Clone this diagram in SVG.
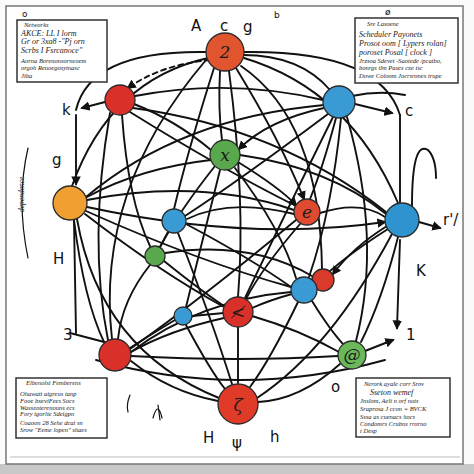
<svg xmlns="http://www.w3.org/2000/svg" width="474" height="474" viewBox="0 0 474 474">
<defs>
<marker id="ah" viewBox="0 0 10 10" refX="8" refY="5" markerWidth="5" markerHeight="5" orient="auto-start-reverse"><path d="M0,0 L10,5 L0,10 z" fill="#111"/></marker>
<style>
.e{fill:none;stroke:#111;stroke-width:1.9;stroke-linecap:round}
.t{fill:none;stroke:#111;stroke-width:1.2;stroke-linecap:round}
.n{stroke:#2a2a2a;stroke-width:1.3}
.lbl{font-family:"DejaVu Sans",sans-serif;font-size:15px;fill:#111}
.in{font-family:"DejaVu Serif",serif;font-size:17px;fill:#1a1a1a;text-anchor:middle;font-style:italic}
.bx{fill:#fff;stroke:#333;stroke-width:1.5}
.tx{font-family:"Liberation Serif",serif;font-style:italic;font-size:6.5px;fill:#222}
.big{font-size:8px}
</style>
</defs>
<rect x="0" y="0" width="474" height="474" fill="#fbfbfb"/>
<rect x="0" y="464" width="474" height="10" fill="#c8c8c8"/>
<rect x="6" y="6" width="457" height="458" fill="#fff" stroke="#777" stroke-width="1.5"/>
<line x1="10" y1="457" x2="460" y2="457" stroke="#bbb" stroke-width="1"/>

<g id="connectors">
<path class="e" d="M210,60 Q160,65 128,88" stroke-dasharray="5,4" marker-end="url(#ah)"/>
<path class="e" d="M243,55 Q300,55 330,90"/>
<path class="e" d="M208,58 Q110,80 72,186"/>
<path class="e" d="M244,58 Q350,90 398,203"/>
<path class="e" d="M220,71 Q218,110 222,140"/>
<path class="e" d="M214,68 Q188,150 174,209"/>
<path class="e" d="M236,68 Q280,140 304,199" marker-end="url(#ah)"/>
<path class="e" d="M229,71 Q246,200 238,297"/>
<path class="e" d="M241,66 Q320,120 322,269"/>
<path class="e" d="M206,60 Q95,190 112,339"/>
<path class="e" d="M244,52 Q380,50 400,115"/>
<path class="e" d="M206,52 Q90,50 76,110"/>
<path class="e" d="M134,104 Q175,120 211,150"/>
<path class="e" d="M135,96 Q230,78 323,100"/>
<path class="e" d="M133,108 Q280,128 386,212"/>
<path class="e" d="M130,112 Q220,168 296,206"/>
<path class="e" d="M122,115 Q128,200 150,246"/>
<path class="e" d="M110,113 Q88,240 108,340"/>
<path class="e" d="M105,102 L82,108" marker-end="url(#ah)"/>
<path class="e" d="M324,108 Q268,120 239,149" marker-end="url(#ah)"/>
<path class="e" d="M328,114 Q240,180 185,216"/>
<path class="e" d="M324,105 Q180,118 86,197"/>
<path class="e" d="M336,118 Q322,170 310,199"/>
<path class="e" d="M347,117 Q382,240 356,341"/>
<path class="e" d="M333,117 Q282,220 245,298"/>
<path class="e" d="M341,118 Q332,210 309,277"/>
<path class="e" d="M355,104 L392,113" marker-end="url(#ah)"/>
<path class="e" d="M352,96 Q380,90 405,95"/>
<path class="e" d="M211,160 Q140,168 87,197"/>
<path class="e" d="M238,162 Q280,188 296,205" marker-end="url(#ah)"/>
<path class="e" d="M215,166 Q180,210 160,247"/>
<path class="e" d="M235,168 Q282,230 296,278"/>
<path class="e" d="M240,155 Q330,168 386,214"/>
<path class="e" d="M220,170 Q200,250 186,307"/>
<path class="e" d="M87,207 Q250,242 385,222" marker-end="url(#ah)"/>
<path class="e" d="M86,211 Q200,262 291,287"/>
<path class="e" d="M85,214 Q160,272 224,307"/>
<path class="e" d="M74,220 Q84,300 104,342"/>
<path class="e" d="M77,219 Q100,350 219,398"/>
<path class="e" d="M87,200 Q200,178 294,210"/>
<path class="e" d="M76,115 L76,184" marker-end="url(#ah)"/>
<path class="e" d="M74,221 L76,333"/>
<path class="e" d="M70,333 L108,343"/>
<path class="e" d="M294,214 Q230,198 187,219"/>
<path class="e" d="M320,213 Q360,200 385,217"/>
<path class="e" d="M300,224 Q262,268 246,299"/>
<path class="e" d="M296,220 Q200,300 130,349"/>
<path class="e" d="M168,232 L160,247"/>
<path class="e" d="M186,224 Q250,258 291,287"/>
<path class="e" d="M178,233 Q212,320 232,384"/>
<path class="e" d="M388,229 Q342,258 316,284"/>
<path class="e" d="M387,226 Q352,248 333,274" marker-end="url(#ah)"/>
<path class="e" d="M398,237 Q382,300 361,342"/>
<path class="e" d="M392,234 Q330,350 257,398"/>
<path class="e" d="M419,222 L440,228" marker-end="url(#ah)"/>
<path class="e" d="M412,206 Q412,140 428,150 Q436,158 436,178"/>
<path class="e" d="M400,115 L400,202"/>
<path class="e" d="M400,240 L397,328" marker-end="url(#ah)"/>
<path class="e" d="M164,261 Q200,290 224,306"/>
<path class="e" d="M150,265 Q122,300 118,339"/>
<path class="e" d="M165,253 Q250,240 312,276"/>
<path class="e" d="M292,294 Q270,300 252,308"/>
<path class="e" d="M312,301 Q330,330 343,344"/>
<path class="e" d="M298,302 Q270,360 250,387"/>
<path class="e" d="M291,292 Q200,300 131,352"/>
<path class="e" d="M224,313 L192,316"/>
<path class="e" d="M238,327 L238,383"/>
<path class="e" d="M224,318 Q170,330 131,352"/>
<path class="e" d="M252,316 Q300,330 339,352"/>
<path class="e" d="M186,325 Q210,370 225,389"/>
<path class="e" d="M175,320 Q150,335 130,348"/>
<path class="e" d="M131,361 Q170,392 218,401"/>
<path class="e" d="M96,360 Q240,400 385,360"/>
<path class="e" d="M131,356 Q240,362 338,356"/>
<path class="e" d="M340,364 Q300,400 258,402"/>
<path class="e" d="M365,351 L393,340" marker-end="url(#ah)"/>
<path class="t" d="M28,148 Q16,200 28,258"/>
<path class="t" d="M153,418 Q158,400 162,418 M158,405 L160,420"/>
<path class="t" d="M130,395 Q126,405 128,412"/>
</g>

<g id="n1"><circle class="n" cx="225" cy="52" r="19" fill="#e0552e"/><text class="in" x="225" y="58">2</text></g>
<g id="n2"><circle class="n" cx="120" cy="100" r="15" fill="#d9302a"/></g>
<g id="n3"><circle class="n" cx="339" cy="102" r="16" fill="#3a9ad4"/></g>
<g id="n4"><circle class="n" cx="225" cy="155" r="15" fill="#5aa84e"/><text class="in" x="225" y="161">x</text></g>
<g id="n5"><circle class="n" cx="70" cy="203" r="17" fill="#f0a030"/></g>
<g id="n6"><circle class="n" cx="307" cy="212" r="13" fill="#e04a30"/><text class="in" x="307" y="218">e</text></g>
<g id="n7"><circle class="n" cx="174" cy="221" r="12" fill="#3a9ad4"/></g>
<g id="n8"><circle class="n" cx="402" cy="220" r="17" fill="#2f93cf"/></g>
<g id="n9"><circle class="n" cx="155" cy="256" r="10" fill="#5aa84e"/></g>
<g id="n10"><circle class="n" cx="323" cy="280" r="11" fill="#d93a2c"/></g>
<g id="n11"><circle class="n" cx="304" cy="290" r="13" fill="#3a9ad4"/></g>
<g id="n12"><circle class="n" cx="238" cy="312" r="15" fill="#d9302a"/><text class="in" x="238" y="318">≮</text></g>
<g id="n13"><circle class="n" cx="183" cy="316" r="9" fill="#3a9ad4"/></g>
<g id="n14"><circle class="n" cx="115" cy="355" r="16" fill="#d9302a"/></g>
<g id="n15"><circle class="n" cx="352" cy="355" r="14" fill="#6ab85a"/><text class="in" x="352" y="361">@</text></g>
<g id="n16"><circle class="n" cx="238" cy="404" r="20" fill="#e03a28"/><text class="in" x="238" y="411">ζ</text></g>

<g id="labels">
<text class="lbl" x="191" y="31">A</text>
<text class="lbl" x="220" y="31">c</text>
<text class="lbl" x="243" y="32">g</text>
<text class="lbl" x="274" y="18" style="font-size:9px">b</text>
<text class="lbl" x="22" y="17" style="font-size:9px">o</text>
<text class="lbl" x="385" y="15" style="font-size:9px">ø</text>
<text class="lbl" x="62" y="115">k</text>
<text class="lbl" x="405" y="116">c</text>
<text class="lbl" x="52" y="165">g</text>
<text class="lbl" x="53" y="264">H</text>
<text class="lbl" x="443" y="225">r'/</text>
<text class="lbl" x="416" y="276">K</text>
<text class="lbl" x="63" y="340">3</text>
<text class="lbl" x="406" y="340">1</text>
<text class="lbl" x="331" y="392">o</text>
<text class="lbl" x="203" y="443">H</text>
<text class="lbl" x="232" y="448">ψ</text>
<text class="lbl" x="270" y="442">h</text>
<text class="tx" transform="translate(24,212) rotate(-90)" style="font-size:7.5px">dependence</text>
</g>

<g id="box-tl">
<rect class="bx" x="17" y="20" width="90" height="62"/>
<text class="tx" x="24" y="27">Networks</text>
<text class="tx big" x="21" y="36">AKCE: LL I lorm</text>
<text class="tx big" x="21" y="44">Gr or 3xa8 -"Pj orn</text>
<text class="tx big" x="21" y="53">Scrbs I Fsrcanoce"</text>
<text class="tx" x="21" y="63">Aorna Borenonsorneoem</text>
<text class="tx" x="21" y="70">orgoh Reuoegosytnasc</text>
<text class="tx" x="21" y="78">Jiba</text>
</g>
<g id="box-tr">
<rect class="bx" x="355" y="18" width="103" height="65"/>
<text class="tx" x="367" y="26">Sre Lasoene</text>
<text class="tx big" x="359" y="37">Scheduler Payonets</text>
<text class="tx big" x="359" y="46">Prosot oom [ Lypers rolan]</text>
<text class="tx big" x="359" y="55">poroset Posal [ clock ]</text>
<text class="tx" x="359" y="63">Jrzsoa Sdevet -Saotede /pcatbo,</text>
<text class="tx" x="359" y="70">bonrgs tlm Pases cxe tsc</text>
<text class="tx" x="359" y="78">Dowe Coloom Jocrsrones trupe</text>
</g>
<g id="box-bl">
<rect class="bx" x="16" y="378" width="91" height="60"/>
<text class="tx" x="26" y="385">Elbenolsi Femberens</text>
<text class="tx" x="20" y="396">Ohawatt aigreus tanp</text>
<text class="tx" x="20" y="403">Fooe bxeviFees Socs</text>
<text class="tx" x="20" y="410">Wasseoterenouns ecs</text>
<text class="tx" x="20" y="416">Fory tgorlte Sdeigpn</text>
<text class="tx" x="20" y="425">Coaoon 28 Sehe dcat sn</text>
<text class="tx" x="20" y="432">Srow "Eeme lopen" shaes</text>
</g>
<g id="box-br">
<rect class="bx" x="356" y="378" width="94" height="59"/>
<text class="tx" x="364" y="386">Nerork ayale corr Srov</text>
<text class="tx big" x="370" y="395">Sseton wemef</text>
<text class="tx" x="360" y="403">Jnslom, Aelt n orf nuts</text>
<text class="tx" x="360" y="411">Sraprosa J ccon = BVCK</text>
<text class="tx" x="360" y="419">Sssa as cuenacs hocs</text>
<text class="tx" x="360" y="426">Condomrs Crubns rrorno</text>
<text class="tx" x="360" y="433">t Desp</text>
</g>
</svg>
